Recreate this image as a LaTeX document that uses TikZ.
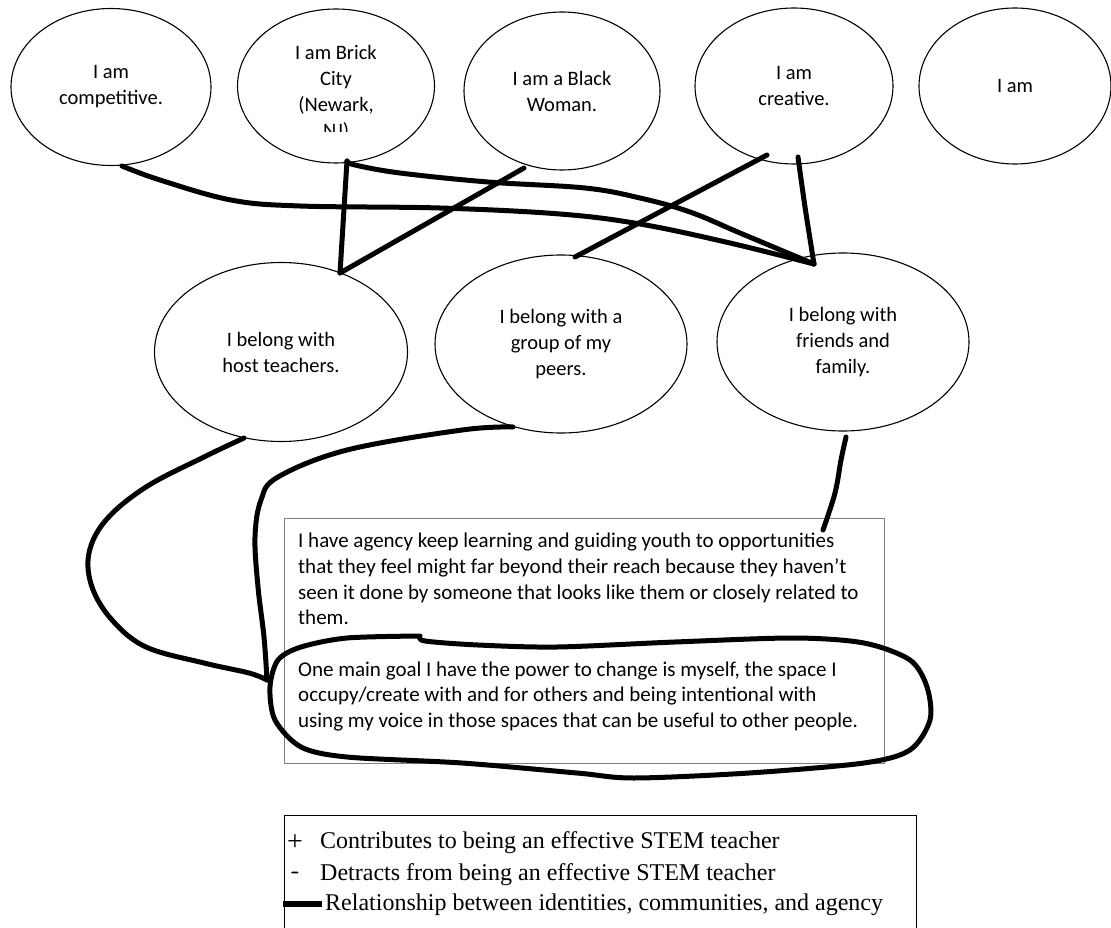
\documentclass[tikz,border=0pt]{standalone}
\usepackage{fontspec}
\setmainfont{Liberation Serif}
\newfontfamily\calf{Carlito}
\usetikzlibrary{shapes.geometric}
\begin{document}
\begin{tikzpicture}[x=1pt,y=-1pt,
  oval/.style={draw, line width=1.1pt, ellipse, inner sep=0pt, align=center,
    font=\calf\fontsize{20.5}{26}\selectfont},
  boxtext/.style={align=left, inner sep=0pt, anchor=north west,
    font=\calf\fontsize{21}{25.7}\selectfont},
  hand/.style={line width=5pt, line cap=round, line join=round},
  legtext/.style={inner sep=0pt, anchor=west, font=\fontsize{24}{28}\selectfont}]
\useasboundingbox[fill=white] (0,0) rectangle (1111,928);

% top row: identities
\node[oval, minimum width=200, minimum height=157] (comp) at (111,87) {I am\\competitive.};
\node[oval, minimum width=197, minimum height=154] (brick) at (336,86) {};
\begin{scope}
  \clip (240,20) rectangle (430,132);
  \node[align=center, inner sep=0pt, font=\calf\fontsize{20.5}{26}\selectfont] (bricktext) at (336,93) {I am Brick\\City\\(Newark,\\NJ)};
\end{scope}
\node[oval, minimum width=196, minimum height=158] (black) at (562,91) {I am a Black\\Woman.};
\node[oval, minimum width=198, minimum height=156] (creative) at (794,86) {I am\\creative.};
\node[oval, minimum width=192, minimum height=156] (iam) at (1015,86) {I am};

% middle row: communities
\node[oval, minimum width=253, minimum height=179] (host) at (281,352) {I belong with\\host teachers.};
\node[oval, minimum width=252, minimum height=178] (peers) at (561,344) {I belong with a\\group of my\\peers.};
\node[oval, minimum width=252, minimum height=178] (friends) at (843,342) {I belong with\\friends and\\family.};

% agency box
\node[draw=black!50, line width=0.8pt, minimum width=600, minimum height=245, anchor=north west, inner sep=0pt] (agency) at (284,518) {};
\node[boxtext] (agencytext) at (298,533) {I have agency keep learning and guiding youth to opportunities\\
that they feel might far beyond their reach because they haven’t\\
seen it done by someone that looks like them or closely related to\\
them.\\[25.7pt]
One main goal I have the power to change is myself, the space I\\
occupy/create with and for others and being intentional with\\
using my voice in those spaces that can be useful to other people.};

% anchor coordinates for hand-drawn connectors
\coordinate (compB) at (122,166);
\coordinate (brickB) at (347,161);
\coordinate (blackB) at (524,168);
\coordinate (creaB1) at (767,155);
\coordinate (creaB2) at (798,157);
\coordinate (hostT) at (340,273);
\coordinate (peersT) at (575,257);
\coordinate (friendsT) at (814,264);
\coordinate (hostB) at (244,438);
\coordinate (peersB) at (513,427);
\coordinate (friendsB) at (846,437);
\coordinate (agencyT) at (823,530);
\coordinate (goalL) at (267,680);
\coordinate (loopS) at (420,636);

% identity -> community
\draw[hand] plot[smooth, tension=0.6] coordinates {(compB) (160,180) (231,200) (300,206) (440,208) (560,214) (640,224) (730,243) (friendsT)};
\draw[hand] plot[smooth, tension=0.6] coordinates {(brickB) (355,165) (400,173) (488,182) (585,188) (640,198) (690,212) (740,233) (friendsT)};
\draw[hand] (brickB) -- (hostT);
\draw[hand] (blackB) -- (hostT);
\draw[hand] (creaB1) -- (peersT);
\draw[hand] plot[smooth, tension=0.5] coordinates {(creaB2) (805,207) (friendsT)};

% community -> agency
\draw[hand] plot[smooth, tension=0.6] coordinates {(hostB) (204,457) (146,487) (106,520) (89,553) (92,587) (112,620) (146,647) (204,663) (249,673) (goalL)};
\draw[hand] plot[smooth, tension=0.6] coordinates {(peersB) (462,430) (347,450) (278,477) (261,500) (255,537) (258,587) (264,637) (goalL)};
\draw[hand] plot[smooth, tension=0.6] coordinates {(friendsB) (841,460) (835,493) (agencyT)};

% loop around the goal
\draw[hand] plot[smooth, tension=0.5] coordinates {(loopS) (425,641) (478,645) (557,647) (675,642) (794,638) (864,643) (910,660) (927,687) (930,720) (910,750) (864,763) (749,773) (634,778) (577,773) (462,763) (347,757) (301,747) (275,720) (270,687) (278,660) (301,647) (347,638) (loopS)};

% legend
\node[draw, line width=0.8pt, minimum width=632, minimum height=130, anchor=north west, inner sep=0pt] (legend) at (284,815) {};
\node[legtext, font=\fontsize{28}{28}\selectfont] (plus) at (287,843) {+};
\node[legtext] (plustext) at (320,843) {Contributes to being an effective STEM teacher};
\node[legtext, font=\sffamily\bfseries\fontsize{24}{28}\selectfont] (minus) at (291,875) {-};
\node[legtext] (minustext) at (320,875) {Detracts from being an effective STEM teacher};
\coordinate (barL) at (283,904);
\coordinate (barR) at (322,904);
\draw[line width=6pt] (barL) -- (barR);
\node[legtext] (reltext) at (325,905) {Relationship between identities, communities, and agency};
\end{tikzpicture}
\end{document}
